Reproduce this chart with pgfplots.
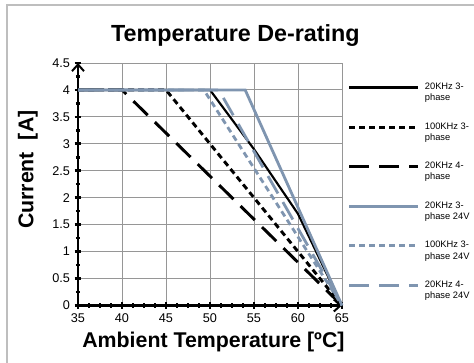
\documentclass[border=0pt]{standalone}
\usepackage{fontspec}
\setmainfont{Liberation Sans}
\usepackage{pgfplots}
\pgfplotsset{compat=1.18}
\usetikzlibrary{arrows.meta}
\definecolor{steel}{RGB}{127,149,176}
\definecolor{gridc}{RGB}{150,150,150}
\definecolor{framec}{RGB}{190,190,190}
\begin{document}
\begin{tikzpicture}
\useasboundingbox (0,0) rectangle (355.5pt,272.25pt);
\draw[framec, line width=0.8pt] (5.25pt,-20pt) rectangle (380pt,268.5pt);
\node[font=\fontsize{17.5}{21}\selectfont\bfseries, anchor=base] at (176.6pt,241.1pt) {Temperature De-rating};
\begin{axis}[
  at={(58.5pt,43.125pt)}, anchor=south west,
  scale only axis, width=198pt, height=181.875pt,
  xmin=35, xmax=65, ymin=0, ymax=4.5,
  xtick={35,40,...,65}, ytick={0,0.5,...,4.5},
  minor x tick num=3, minor y tick num=1,
  axis lines*=left,
  axis line style={black, line width=2.2pt, -{Straight Barb[length=5pt,width=9pt,line width=1.5pt]}},
  tick align=center,
  major tick length=5pt, minor tick length=3.2pt,
  major tick style={black, line width=2pt},
  minor tick style={black, line width=1.8pt},
  grid=major, major grid style={gridc, line width=0.7pt},
  clip=false,
  /pgf/number format/assume math mode=true,
  ticklabel style={font=\fontsize{9.5}{10}\selectfont},
  xlabel={\textbf{Ambient Temperature [ºC]}},
  ylabel={\textbf{Current\ \ [A]}},
  label style={font=\fontsize{16}{19}\selectfont},
  xlabel style={at={(rel axis cs:0.513,-0.15)}, anchor=center},
  ylabel style={at={(rel axis cs:-0.19,0.56)}, anchor=center},
  legend style={at={(axis description cs:1.02,0.93)}, anchor=north west, draw=none, fill=none,
    font=\fontsize{7}{8.5}\selectfont, row sep=10.8pt, inner sep=0pt,
    cells={align=left}, column sep=1.8pt},
  legend image code/.code={\draw[#1] (0pt,4pt) -- (52pt,4pt);},
  legend cell align=left,
]
\addplot[black, line width=1.6pt] coordinates {(35,4) (50,4) (55,2.9) (60,1.7) (65,0)};
\addlegendentry{20KHz 3-\\phase}
\addplot[black, line width=2.2pt, dash pattern=on 4.5pt off 3pt] coordinates {(35,4) (45,4) (65,0)};
\addlegendentry{100KHz 3-\\phase}
\addplot[black, line width=2.2pt, dash pattern=on 15pt off 7.5pt] coordinates {(35,4) (40,4) (65,0)};
\addlegendentry{20KHz 4-\\phase}
\addplot[steel, line width=2.1pt] coordinates {(35,4) (54,4) (65,0)};
\addlegendentry{20KHz 3-\\phase 24V}
\addplot[steel, line width=2.1pt, dash pattern=on 4.5pt off 3pt] coordinates {(35,4) (49.3,4) (65,0)};
\addlegendentry{100KHz 3-\\phase 24V}
\addplot[steel, line width=2.1pt, dash pattern=on 15pt off 7.5pt] coordinates {(35,4) (51,4) (65,0)};
\addlegendentry{20KHz 4-\\phase 24V}
\end{axis}
\end{tikzpicture}
\end{document}
